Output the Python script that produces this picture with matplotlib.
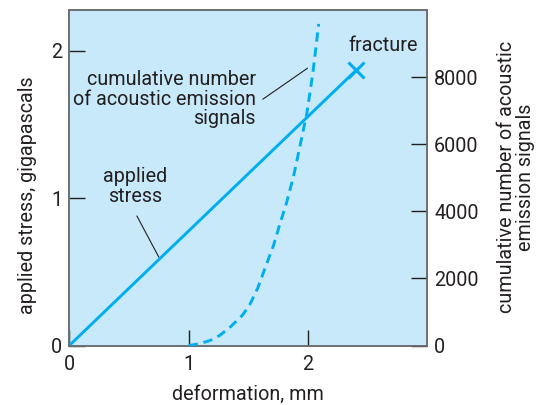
import matplotlib
matplotlib.use("Agg")
import matplotlib.pyplot as plt

plt.rcParams['font.family'] = ['Roboto', 'DejaVu Sans']

# ---- data ----
stress_x = [0.0, 2.405]
stress_y = [0.0, 1.869]
fracture_x = [2.405]
fracture_y = [1.869]

emission_x = [1.00, 1.09, 1.18, 1.26, 1.34, 1.45, 1.51, 1.58, 1.65, 1.71,
              1.76, 1.82, 1.88, 1.93, 1.99, 2.04, 2.09]
emission_c = [0, 50, 150, 300, 520, 900, 1200, 1720, 2400, 2970,
              3570, 4250, 5060, 5900, 6910, 8100, 9590]

x_ticks = [0, 1, 2]
x_ticklabels = ['0', '1', '2']
left_ticks = [0, 1, 2]
left_ticklabels = ['0', '1', '2']
right_ticks = [0, 2000, 4000, 6000, 8000]
right_ticklabels = ['0', '2000', '4000', '6000', '8000']

# ---- style ----
BG = '#C7E9F9'
LINE = '#00AEEF'
TXT = '#231F20'
SPINE = '#6D6E71'
FS = 14.2

fig = plt.figure(figsize=(5.5, 4.05), dpi=100)
ax = fig.add_axes([69.3/550, 1-345.5/405, (427.3-69.3)/550, (345.5-9.5)/405])
ax.set_facecolor(BG)
ax.set_xlim(0, 3)
ax.set_ylim(0, 2.28)
ax2 = ax.twinx()
ax2.set_ylim(0, 10020)

for a in (ax, ax2):
    for s in a.spines.values():
        s.set_color(SPINE)
        s.set_linewidth(1.2)

ax.plot(stress_x, stress_y, color=LINE, lw=2.1, solid_capstyle='butt', zorder=3)
ax.plot(fracture_x, fracture_y, marker='x', ms=11.5, mew=2.2, color=LINE,
        linestyle='none', zorder=4)
ax2.plot(emission_x, emission_c, color=LINE, lw=2.1, dashes=(3.2, 2.0), zorder=3)

ax.set_xticks(x_ticks)
ax.set_xticklabels(x_ticklabels)
ax.set_yticks(left_ticks)
ax.set_yticklabels(left_ticklabels)
ax2.set_yticks(right_ticks)
ax2.set_yticklabels(right_ticklabels)

ax.tick_params(axis='both', direction='in', length=11.5, width=1.0,
               color=TXT, labelcolor=TXT, labelsize=FS, pad=5)
ax.tick_params(axis='x', pad=7)
ax2.tick_params(axis='y', direction='in', length=11.5, width=1.0,
                color=TXT, labelcolor=TXT, labelsize=FS, pad=5)

ax.set_xlabel('deformation, mm', fontsize=FS, color=TXT, labelpad=8)
fig.text(28/550, 1-195/405, 'applied stress, gigapascals', rotation=90,
         ha='center', va='center', fontsize=FS, color=TXT)
fig.text(516/550, 1-177/405, 'cumulative number of acoustic\nemission signals',
         rotation=90, ha='center', va='center', fontsize=FS, color=TXT,
         multialignment='center', linespacing=0.95)

# annotations
ax.text(1.565, 1.672, 'cumulative number\nof acoustic emission\nsignals',
        ha='right', va='center', fontsize=FS, color=TXT, linespacing=1.05)
ax.plot([1.623, 1.995], [1.672, 1.881], color=TXT, lw=0.8, zorder=2)
ax.text(0.555, 1.08, 'applied\nstress', ha='center', va='center',
        fontsize=FS, color=TXT, linespacing=1.05)
ax.plot([0.567, 0.75], [0.878, 0.60], color=TXT, lw=0.8, zorder=2)
ax.text(2.628, 2.039, 'fracture', ha='center', va='center', fontsize=FS, color=TXT)

fig.savefig('out.png', dpi=100)
